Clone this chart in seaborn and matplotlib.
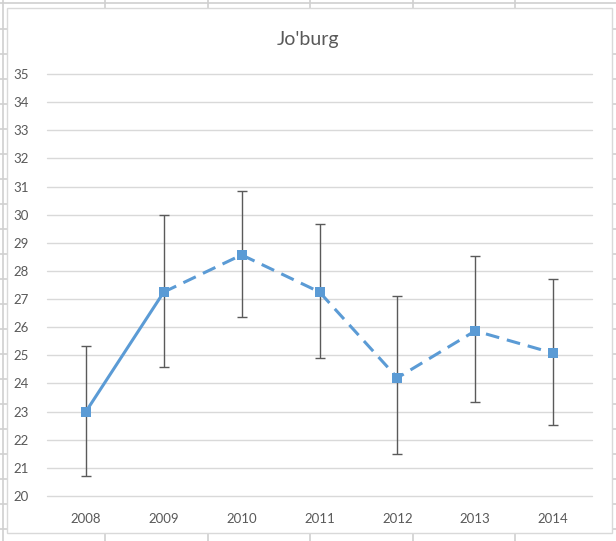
import numpy as np
import pandas as pd
import matplotlib.pyplot as plt
import seaborn as sns
from matplotlib.lines import Line2D
from matplotlib.patches import Rectangle

# values
years = ["2008", "2009", "2010", "2011", "2012", "2013", "2014"]
means = [23.0, 27.25, 28.57, 27.25, 24.2, 25.87, 25.08]
upper = [25.34, 30.0, 30.85, 29.68, 27.1, 28.54, 27.72]
lower = [20.71, 24.59, 26.37, 24.89, 21.5, 23.35, 22.53]
title = "Jo'burg"

df = pd.DataFrame({"year": years, "mean": means, "hi": upper, "lo": lower})
df["pos"] = np.arange(len(df))

sns.set_theme(style="white")
plt.rcParams["font.family"] = ["Lato", "DejaVu Sans"]

blue = "#5b9bd5"
grey_txt = "#595959"

fig = plt.figure(figsize=(6.16, 5.41), dpi=100)
W, H = 616, 541

# spreadsheet cell lines behind the chart
cell = "#d0d0d0"
for x in [3, 105, 208, 310, 413, 515]:
    fig.add_artist(Line2D([x / W, x / W], [0, 1], color=cell, lw=1.2, zorder=0))
for y in [3] + list(range(29, 541, 25)):
    fig.add_artist(Line2D([0, 1], [1 - y / H, 1 - y / H], color=cell, lw=1.2, zorder=0))

# chart area
fig.add_artist(Rectangle((7 / W, 1 - 533 / H), (612 - 7) / W, (533 - 8) / H,
                         facecolor="white", edgecolor="#d9d9d9", lw=1.0, zorder=1))

ax = fig.add_axes([47 / W, 1 - 496 / H, (592 - 47) / W, (496 - 74) / H], zorder=2)
ax.patch.set_alpha(0)

yerr = [df["mean"] - df["lo"], df["hi"] - df["mean"]]
ax.errorbar(df["pos"], df["mean"], yerr=yerr, fmt="none", ecolor="#5a5a5a",
            elinewidth=1.0, capsize=3.6, capthick=1.0, zorder=3)

first = df.iloc[:2]
rest = df.iloc[1:]
sns.lineplot(data=first, x="pos", y="mean", color=blue, lw=2.2, ax=ax, zorder=4)
sns.lineplot(data=rest, x="pos", y="mean", color=blue, lw=2.2, ax=ax, zorder=4,
             dashes=False).lines[-1].set_dashes([4.5, 2.6])
ax.scatter(df["pos"], df["mean"], marker="s", s=42, color=blue, zorder=5, linewidths=0)

ax.set_xlim(-0.5, len(years) - 0.5)
ax.set_ylim(20, 35)
ax.set_yticks(range(20, 36))
ax.set_xticks(df["pos"])
ax.set_xticklabels(years)
ax.yaxis.grid(True, color="#d9d9d9", lw=1.0)
for gl in ax.yaxis.get_gridlines():
    gl.set_clip_on(False)
ax.set_axisbelow(True)
for s in ax.spines.values():
    s.set_visible(False)
ax.tick_params(axis="both", length=0, labelsize=9.5, colors=grey_txt)
ax.tick_params(axis="x", pad=12)
ax.tick_params(axis="y", pad=13)
ax.set_xlabel("")
ax.set_ylabel("")

fig.text(0.5, 1 - 40 / H, title, ha="center", va="center", fontsize=14, color=grey_txt)

fig.savefig("out.png", dpi=100)
